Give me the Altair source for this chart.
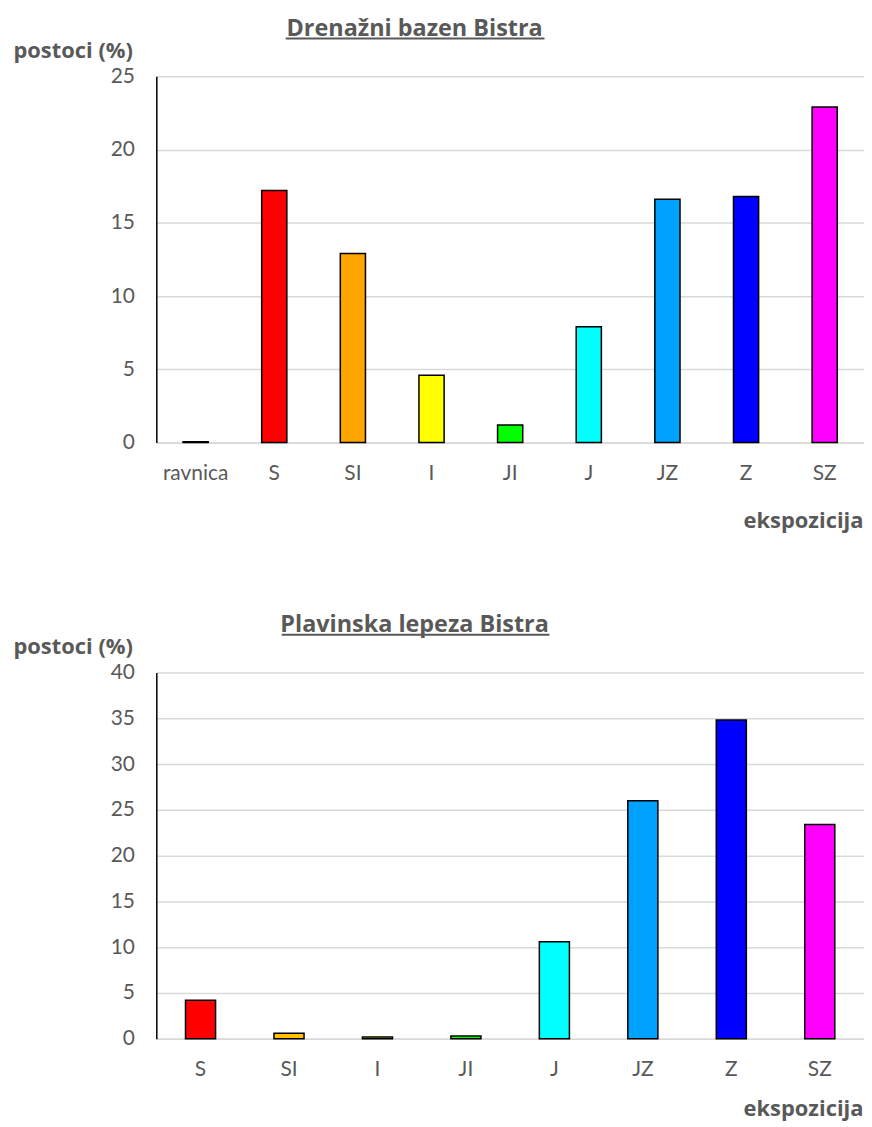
import altair as alt
import pandas as pd

# --- data -------------------------------------------------------------
cat1 = ["ravnica", "S", "SI", "I", "JI", "J", "JZ", "Z", "SZ"]
val1 = [0.05, 17.2, 12.9, 4.6, 1.2, 7.9, 16.6, 16.8, 22.9]
col1 = ["#FFFFFF", "#FF0000", "#FFA500", "#FFFF00", "#00FF00", "#00FFFF",
        "#00A2FF", "#0000FF", "#FF00FF"]

cat2 = ["S", "SI", "I", "JI", "J", "JZ", "Z", "SZ"]
val2 = [4.2, 0.6, 0.2, 0.3, 10.6, 26.0, 34.8, 23.4]
col2 = ["#FF0000", "#FFC000", "#FFFF00", "#00FF00", "#00FFFF", "#00A2FF",
        "#0000FF", "#FF00FF"]

title1 = "Drenažni bazen Bistra"
title2 = "Plavinska lepeza Bistra"
y_title = "postoci (%)"
x_title = "ekspozicija"

FONT = "Lato"
BFONT = "Open Sans"
GREY = "#595959"
W = 711
H = 368


def panel(cats, vals, cols, title, ymax, pad, xtitle_y, ul_x1, ul_x2):
    df = pd.DataFrame({"cat": cats, "val": vals, "col": cols})
    bars = alt.Chart(df).mark_bar(stroke="black", strokeWidth=1.5).encode(
        x=alt.X(
            "cat:N", sort=cats,
            scale=alt.Scale(paddingInner=pad, paddingOuter=pad / 2),
            axis=alt.Axis(
                title=x_title, labelAngle=0, labelFont=FONT, labelFontSize=21,
                labelColor=GREY, labelPadding=20, ticks=False,
                domainColor="#D9D9D9", domainWidth=1.5, grid=False,
                titleFont=BFONT, titleFontSize=22, titleFontWeight="bold",
                titleColor=GREY, titleAnchor="end", titleAlign="right",
                titleX=W - 1, titleY=xtitle_y, titleBaseline="alphabetic",
            ),
        ),
        y=alt.Y(
            "val:Q",
            scale=alt.Scale(domain=[0, ymax], nice=False),
            axis=alt.Axis(
                values=list(range(0, ymax + 1, 5)), title=y_title,
                labelFont=FONT, labelFontSize=21, labelColor=GREY,
                labelPadding=22, ticks=False, domainColor="black",
                domainWidth=1.5, gridColor="#D9D9D9", gridWidth=1.5,
                titleFont=BFONT, titleFontSize=22, titleFontWeight="bold",
                titleColor=GREY, titleAngle=0, titleAlign="left",
                titleBaseline="alphabetic", titleX=-144, titleY=-19,
            ),
        ),
        fill=alt.Color("col:N", scale=None),
    )
    underline = alt.Chart(alt.Data(values=[{"a": 1}])).mark_rule(
        color=GREY, strokeWidth=2
    ).encode(x=alt.value(ul_x1), x2=alt.value(ul_x2), y=alt.value(-38))
    return alt.layer(bars, underline).properties(
        width=W, height=H,
        title=alt.TitleParams(
            title, font=BFONT, fontSize=23.5, fontWeight="bold", color=GREY,
            anchor="middle", dx=-96, offset=-3,
        ),
    )


c1 = panel(cat1, val1, col1, title1, 25, 0.68, 85, 130, 390)
c2 = panel(cat2, val2, col2, title2, 40, 0.66, 77, 126, 395)

chart = alt.vconcat(c1, c2, spacing=82).properties(
    padding={"left": 5, "top": 6, "right": 0, "bottom": 0}
).configure_view(stroke=None)

chart.save("out.html", embed_options={"renderer": "svg", "actions": False})
